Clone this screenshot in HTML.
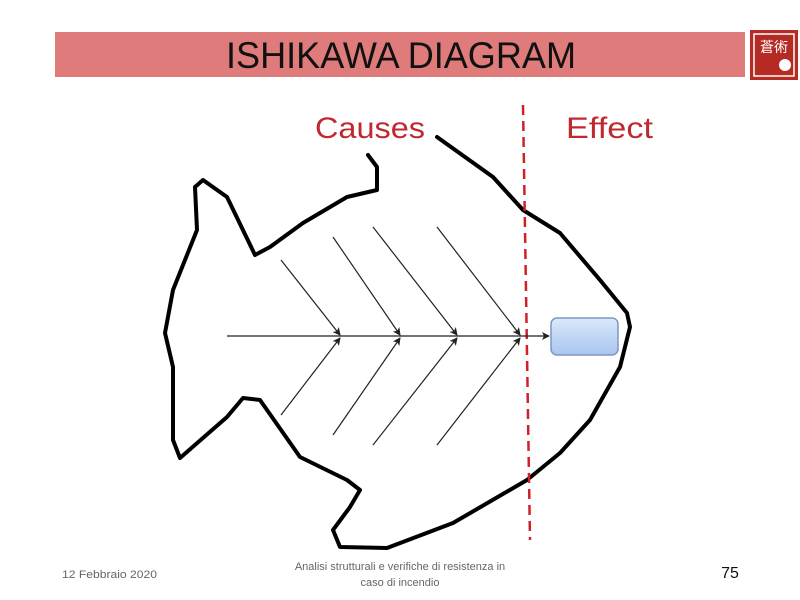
<!DOCTYPE html>
<html><head><meta charset="utf-8"><style>
html,body{margin:0;padding:0;background:#fff;width:800px;height:600px;overflow:hidden;font-family:"Liberation Sans",sans-serif}
</style></head><body>
<svg width="800" height="600" viewBox="0 0 800 600" xmlns="http://www.w3.org/2000/svg">
<defs>
<linearGradient id="g" x1="0" y1="0" x2="0" y2="1"><stop offset="0" stop-color="#dbe8fb"/><stop offset="1" stop-color="#a9c6f0"/></linearGradient>
<marker id="a" markerWidth="8" markerHeight="8" refX="7" refY="4" orient="auto" markerUnits="userSpaceOnUse"><path d="M0,0 L8,4 L0,8 L2,4 z" fill="#222"/></marker>
</defs>
<rect x="55" y="32" width="690" height="45" fill="#df7b7b"/>
<text x="226" y="68" font-size="37" fill="#111" textLength="350" lengthAdjust="spacingAndGlyphs">ISHIKAWA DIAGRAM</text>
<rect x="750" y="30" width="48" height="50" fill="#b52a22"/>
<rect x="754" y="34" width="40" height="42" fill="none" stroke="#fff" stroke-width="1.5"/>
<text x="774" y="52" text-anchor="middle" font-size="14" fill="#fff" font-family="Noto Sans CJK SC,sans-serif">蒼術</text>
<circle cx="785" cy="65" r="6" fill="#fff"/>
<text x="315" y="138" font-size="30" fill="#c0282f" textLength="110" lengthAdjust="spacingAndGlyphs">Causes</text>
<text x="566" y="138" font-size="30" fill="#c0282f" textLength="87" lengthAdjust="spacingAndGlyphs">Effect</text>
<path d="M368,155 L377,167 L377,190 L347,197 L303,223 L270,247 L255,255 L227,197 L203,180 L195,187 L197,230 L173,290 L165,333 L173,367 L173,440 L180,458 L227,417 L243,398 L260,400 L300,457 L347,480 L360,490 L350,507 L333,530 L340,547 L387,548 L453,523 L527,480 L560,453 L590,420 L620,367 L630,327 L627,313 L600,280 L560,233 L523,210 L493,177 L437,137" fill="none" stroke="#000" stroke-width="4" stroke-linejoin="round" stroke-linecap="round"/>
<line x1="523" y1="105" x2="530" y2="540" stroke="#d0202a" stroke-width="2.5" stroke-dasharray="10,6"/>
<g stroke="#222" stroke-width="1.2" fill="none">
<line x1="227" y1="336" x2="549" y2="336" marker-end="url(#a)"/>
<line x1="281" y1="260" x2="340" y2="335" marker-end="url(#a)"/>
<line x1="333" y1="237" x2="400" y2="335" marker-end="url(#a)"/>
<line x1="373" y1="227" x2="457" y2="335" marker-end="url(#a)"/>
<line x1="437" y1="227" x2="520" y2="335" marker-end="url(#a)"/>
<line x1="281" y1="415" x2="340" y2="338" marker-end="url(#a)"/>
<line x1="333" y1="435" x2="400" y2="338" marker-end="url(#a)"/>
<line x1="373" y1="445" x2="457" y2="338" marker-end="url(#a)"/>
<line x1="437" y1="445" x2="520" y2="338" marker-end="url(#a)"/>
</g>
<rect x="551" y="318" width="67" height="37" rx="6" fill="url(#g)" stroke="#7f98bd" stroke-width="1.5"/>
<text x="62" y="578" font-size="11" fill="#666" textLength="95" lengthAdjust="spacingAndGlyphs">12 Febbraio 2020</text>
<text x="400" y="570" text-anchor="middle" font-size="11" fill="#666">Analisi strutturali e verifiche di resistenza in</text>
<text x="400" y="586" text-anchor="middle" font-size="11" fill="#666">caso di incendio</text>
<text x="730" y="578" text-anchor="middle" font-size="16" fill="#111">75</text>
</svg>
</body></html>
